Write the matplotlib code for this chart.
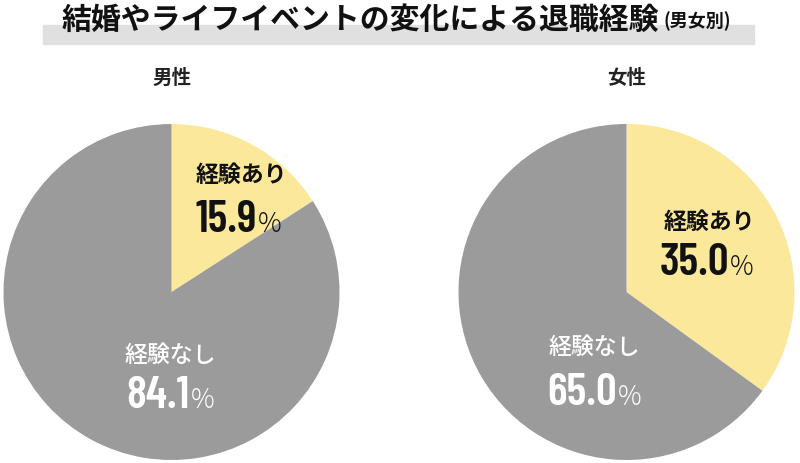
import matplotlib
matplotlib.use("Agg")
import matplotlib.pyplot as plt
from matplotlib.patches import Rectangle
from matplotlib.text import Annotation

plt.rcParams['font.family'] = ['Noto Sans CJK JP', 'DejaVu Sans']

# data
groups = ["男性", "女性"]
slice_labels = ["経験あり", "経験なし"]
with_exp = [15.9, 35.0]
without_exp = [84.1, 65.0]
title = "結婚やライフイベントの変化による退職経験"
subtitle = "(男女別)"

yellow = "#fbe89b"
gray = "#9b9b9b"

W, H = 800, 463
fig = plt.figure(figsize=(W / 100, H / 100), dpi=100)

# grey band behind title
fig.patches.append(Rectangle((43 / W, 1 - 44 / H), (754 - 43) / W, 19 / H,
                             transform=fig.transFigure, color="#e0e0e0", zorder=0))
t = fig.text(62 / W, 1 - 20 / H, title, fontsize=21.5, fontweight="bold",
             ha="left", va="center", color="#111111", zorder=2)
sub = Annotation(subtitle, xy=(1, 0.5), xycoords=t, xytext=(3, -1),
                 textcoords="offset points", fontsize=13, fontweight="bold",
                 ha="left", va="center", color="#111111", annotation_clip=False)
fig.add_artist(sub)

# pie layout (pixel centers, radius)
R = 168
centers = [(171.5, 292), (626.5, 292)]
# label offsets in pie radius units: (name_yes, num_yes, name_no, num_no)
# number positions are digit centre x / baseline y
label_pos = [
    [(0.414, 0.696), (0.324, 0.357), (-0.01, -0.375), (-0.083, -0.69)],
    [(0.491, 0.417), (0.402, 0.101), (-0.193, -0.333), (-0.265, -0.673)],
]

num_font = ['Barlow Condensed', 'DejaVu Sans']

for i, (cx, cy) in enumerate(centers):
    ax = fig.add_axes([(cx - R) / W, (H - cy - R) / H, 2 * R / W, 2 * R / H])
    ax.pie([with_exp[i], without_exp[i]], colors=[yellow, gray], startangle=90,
           counterclock=False, radius=1, wedgeprops=dict(linewidth=0))
    ax.set_xlim(-1, 1)
    ax.set_ylim(-1, 1)
    ax.set_aspect("equal")
    ax.axis("off")

    fig.text(cx / W, 1 - 78 / H, groups[i], fontsize=14, fontweight="bold",
             ha="center", va="center", color="#222222")

    vals = [with_exp[i], without_exp[i]]
    cols = ["#111111", "white"]
    for k in range(2):
        nx, ny = label_pos[i][2 * k]
        vx, vy = label_pos[i][2 * k + 1]
        ax.text(nx, ny, slice_labels[k], fontsize=16.5,
                fontweight="bold" if k == 0 else "medium",
                ha="center", va="center", color=cols[k])
        nt = ax.text(vx, vy, f"{vals[k]:.1f}", fontsize=33, fontweight=600,
                     family=num_font, ha="center", va="baseline", color=cols[k])
        ax.annotate("%", xy=(1, vy), xycoords=(nt, "data"), xytext=(1, 0),
                    textcoords="offset points", fontsize=19, fontweight="light",
                    ha="left", va="baseline", color=cols[k], annotation_clip=False)

fig.savefig("out.png", dpi=100)
